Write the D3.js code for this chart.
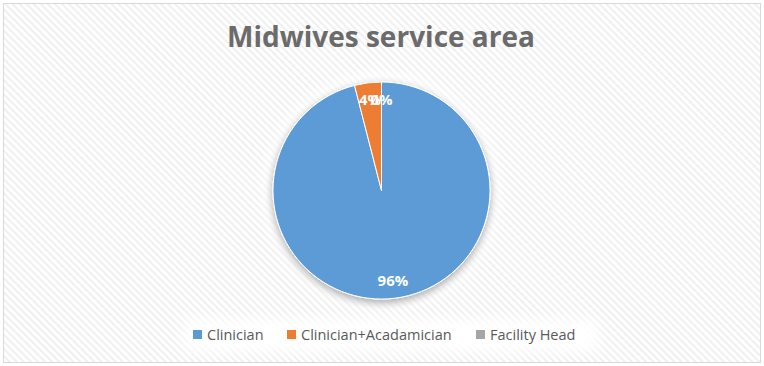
<!DOCTYPE html>
<html>
<head>
<meta charset="utf-8">
<script src="https://cdn.jsdelivr.net/npm/d3@7"></script>
<style>
  html, body { margin: 0; padding: 0; background: #fff; }
  svg { display: block; }
</style>
</head>
<body>
<div id="chart"></div>
<script>
// chart data
const categories = ["Clinician", "Clinician+Acadamician", "Facility Head"];
const values = [96, 4, 0];
const labels = ["96%", "4%", "0%"];
const colors = ["#5B9BD5", "#ED7D31", "#A5A5A5"];
const title = "Midwives service area";

const width = 764, height = 366;
const svg = d3.select("#chart").append("svg")
    .attr("width", width)
    .attr("height", height);

const defs = svg.append("defs");

// diagonal stripe background, like the Excel chart area
const pat = defs.append("pattern")
    .attr("id", "stripes")
    .attr("patternUnits", "userSpaceOnUse")
    .attr("width", 5)
    .attr("height", 5)
    .attr("patternTransform", "rotate(-45)");
pat.append("rect").attr("width", 5).attr("height", 5).attr("fill", "#ffffff");
pat.append("rect").attr("width", 2).attr("height", 5).attr("fill", "#f0f0f0");

// soft shadow for the pie
const shadow = defs.append("filter")
    .attr("id", "shadow")
    .attr("x", "-30%").attr("y", "-30%")
    .attr("width", "160%").attr("height", "160%");
shadow.append("feGaussianBlur").attr("in", "SourceAlpha").attr("stdDeviation", 4).attr("result", "blur");
shadow.append("feOffset").attr("dx", 0).attr("dy", 3).attr("result", "off");
shadow.append("feComponentTransfer").append("feFuncA").attr("type", "linear").attr("slope", 0.35);
const merge = shadow.append("feMerge");
merge.append("feMergeNode");
merge.append("feMergeNode").attr("in", "SourceGraphic");

// glow behind the plot / legend areas
const glow = defs.append("filter").attr("id", "glow")
    .attr("x", "-20%").attr("y", "-20%").attr("width", "140%").attr("height", "140%");
glow.append("feGaussianBlur").attr("stdDeviation", 6);

// chart area with border
svg.append("rect")
    .attr("x", 3.5).attr("y", 3.5)
    .attr("width", width - 7).attr("height", height - 7)
    .attr("fill", "url(#stripes)")
    .attr("stroke", "#d9d9d9")
    .attr("stroke-width", 1);

// title
svg.append("text")
    .attr("x", 381)
    .attr("y", 47)
    .attr("text-anchor", "middle")
    .attr("font-family", "'Open Sans', 'DejaVu Sans', sans-serif")
    .attr("font-weight", "bold")
    .attr("font-size", 29)
    .attr("fill", "#6b6b6b")
    .attr("textLength", 308)
    .attr("lengthAdjust", "spacingAndGlyphs")
    .text(title);

// pie
const cx = 381.5, cy = 190.5, radius = 108.5;

const pie = d3.pie().sort(null).value(d => d)(values);
const arc = d3.arc().innerRadius(0).outerRadius(radius);
const labelArc = d3.arc().innerRadius(radius * 0.84).outerRadius(radius * 0.84);

const g = svg.append("g").attr("transform", `translate(${cx},${cy})`);

// light halo around pie
g.append("circle")
    .attr("r", radius + 8)
    .attr("fill", "#ffffff")
    .attr("opacity", 0.8)
    .attr("filter", "url(#glow)");

g.append("g")
    .attr("filter", "url(#shadow)")
  .selectAll("path")
  .data(pie)
  .join("path")
    .attr("d", arc)
    .attr("fill", (d, i) => colors[i])
    .attr("stroke", "#ffffff")
    .attr("stroke-width", 1);

g.selectAll("text.slice-label")
  .data(pie)
  .join("text")
    .attr("class", "slice-label")
    .attr("transform", d => `translate(${labelArc.centroid(d)})`)
    .attr("text-anchor", "middle")
    .attr("dy", "0.36em")
    .attr("font-family", "'Open Sans', 'DejaVu Sans', sans-serif")
    .attr("font-weight", "bold")
    .attr("font-size", 15)
    .attr("fill", "#ffffff")
    .text((d, i) => labels[i]);

// legend
const legendX = [193, 287, 476];
const legend = svg.append("g");

legend.append("rect")
    .attr("x", 186).attr("y", 320)
    .attr("width", 412).attr("height", 31)
    .attr("fill", "#ffffff")
    .attr("filter", "url(#glow)");

const items = legend.selectAll("g.item")
  .data(categories)
  .join("g")
    .attr("class", "item")
    .attr("transform", (d, i) => `translate(${legendX[i]},335)`);

items.append("rect")
    .attr("x", 0).attr("y", -5)
    .attr("width", 9).attr("height", 9)
    .attr("fill", (d, i) => colors[i]);

items.append("text")
    .attr("x", 14)
    .attr("dy", "0.36em")
    .attr("font-family", "'Open Sans', 'DejaVu Sans', sans-serif")
    .attr("font-size", 14.5)
    .attr("fill", "#595959")
    .text(d => d);
</script>
</body>
</html>
